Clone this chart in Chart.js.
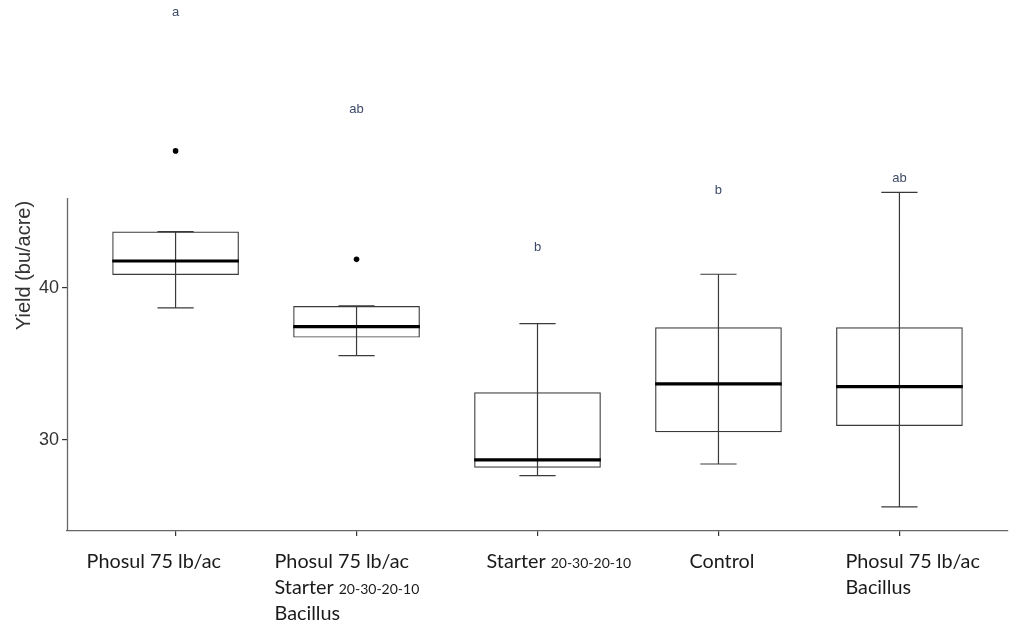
<!DOCTYPE html>
<html>
<head>
<meta charset="utf-8">
<script src="https://cdn.jsdelivr.net/npm/chart.js@4"></script>
<style>
  html, body { margin: 0; padding: 0; background: #fff; }
  #wrap { width: 1011px; height: 624px; position: relative; }
</style>
</head>
<body>
<div id="wrap"><canvas id="chart"></canvas></div>
<script>
// ==== Données
const CATEGORIES = [
  [["Phosul 75 lb/ac"]],
  [["Phosul 75 lb/ac"], ["Starter ", "20-30-20-10"], ["Bacillus"]],
  [["Starter ", "20-30-20-10"]],
  [["Control"]],
  [["Phosul 75 lb/ac"], ["Bacillus"]],
];
const WHISKER_LOW  = [38.67, 35.54, 27.66, 28.42, 25.60];
const Q1           = [40.83, 36.72, 28.18, 30.51, 30.92];
const MEDIAN       = [41.75, 37.44, 28.69, 33.68, 33.50];
const Q3           = [43.68, 38.80, 33.13, 37.40, 37.40];
const WHISKER_HIGH = [43.68, 38.80, 37.64, 40.88, 46.26];
const OUTLIERS     = [[48.98], [41.86], [], [], []];
const LETTERS      = ["a", "ab", "b", "b", "ab"];
const LETTER_Y     = [58.1, 51.73, 42.67, 46.41, 47.2];
const Y_TICKS      = [30, 40];
const Y_MIN = 24.02, Y_MAX = 58.89, AXIS_TOP = 45.89;

// ==== Mise en forme
const LINE = "#3a3a3a";
const BOX_W = 0.7, CAP_W = 0.1;
const LABEL_DX = [-89, -82, -51, -29, -54];

const pos = CATEGORIES.map((_, i) => i + 1);

// segments des moustaches / médianes (null = coupure)
const whiskers = [];
const caps = [];
const medians = [];
pos.forEach((x, i) => {
  whiskers.push({ x, y: WHISKER_LOW[i] }, { x, y: WHISKER_HIGH[i] }, { x, y: null });
  caps.push({ x: x - CAP_W, y: WHISKER_LOW[i] }, { x: x + CAP_W, y: WHISKER_LOW[i] }, { x, y: null });
  caps.push({ x: x - CAP_W, y: WHISKER_HIGH[i] }, { x: x + CAP_W, y: WHISKER_HIGH[i] }, { x, y: null });
  medians.push({ x: x - BOX_W / 2, y: MEDIAN[i] }, { x: x + BOX_W / 2, y: MEDIAN[i] }, { x, y: null });
});
const outlierPts = [];
OUTLIERS.forEach((arr, i) => arr.forEach(v => outlierPts.push({ x: pos[i], y: v })));

// ==== Plugin : axe Y partiel, lettres, étiquettes X
const decorPlugin = {
  id: "decor",
  afterDatasetsDraw(chart) {
    const { ctx, scales: { x, y } } = chart;
    ctx.save();
    // axe Y (ne monte que jusqu'à AXIS_TOP)
    ctx.strokeStyle = "#666";
    ctx.lineWidth = 1.3;
    ctx.beginPath();
    ctx.moveTo(x.left + 0.5, y.getPixelForValue(AXIS_TOP));
    ctx.lineTo(x.left + 0.5, y.getPixelForValue(Y_MIN));
    ctx.stroke();

    // lettres de groupement
    ctx.fillStyle = "#3d4a68";
    ctx.font = "13px 'Liberation Sans', Arial, sans-serif";
    ctx.textAlign = "center";
    ctx.textBaseline = "middle";
    LETTERS.forEach((t, i) => ctx.fillText(t, x.getPixelForValue(pos[i]), y.getPixelForValue(LETTER_Y[i])));

    // étiquettes X (texte mixte)
    ctx.fillStyle = "#1a1a1a";
    ctx.textAlign = "left";
    ctx.textBaseline = "alphabetic";
    CATEGORIES.forEach((lines, i) => {
      const x0 = x.getPixelForValue(pos[i]) + LABEL_DX[i];
      lines.forEach((segs, j) => {
        let cx = x0;
        const by = y.bottom + 37 + j * 26;
        segs.forEach((s, k) => {
          ctx.font = (k === 0 ? "19.8px" : "14px") + " Lato, sans-serif";
          ctx.fillText(s, cx, by);
          cx += ctx.measureText(s).width;
        });
      });
    });
    ctx.restore();
  },
};

new Chart(document.getElementById("chart"), {
  type: "bar",
  data: {
    datasets: [
      {
        type: "scatter",
        data: outlierPts,
        pointRadius: 2.8,
        pointBackgroundColor: "#000",
        pointBorderWidth: 0,
      },
      {
        type: "line",
        data: medians,
        borderColor: "#000",
        borderWidth: 3.2,
        pointRadius: 0,
        spanGaps: false,
      },
      {
        type: "line",
        data: whiskers,
        borderColor: LINE,
        borderWidth: 1.2,
        pointRadius: 0,
        spanGaps: false,
      },
      {
        type: "line",
        data: caps,
        borderColor: LINE,
        borderWidth: 1.2,
        pointRadius: 0,
        spanGaps: false,
      },
      {
        type: "bar",
        data: pos.map((x, i) => ({ x, y: [Q1[i], Q3[i]] })),
        backgroundColor: "rgba(255,255,255,0)",
        borderColor: LINE,
        borderWidth: 1.2,
        borderSkipped: false,
        barPercentage: BOX_W,
        categoryPercentage: 1,
      },
    ],
  },
  options: {
    responsive: true,
    maintainAspectRatio: false,
    animation: false,
    layout: { autoPadding: false, padding: { top: 0, left: 10, right: 3, bottom: 88 } },
    plugins: { legend: { display: false }, tooltip: { enabled: false } },
    scales: {
      x: {
        type: "linear",
        min: 0.4,
        max: 5.6,
        offset: false,
        afterBuildTicks: s => { s.ticks = pos.map(v => ({ value: v })); },
        afterFit: s => { s.paddingLeft = 0; s.paddingRight = 0; },
        ticks: { display: false },
        grid: { display: true, drawOnChartArea: false, offset: false, tickLength: 5, color: "#333", lineWidth: 1.2 },
        border: { display: true, color: "#666", width: 1.3 },
      },
      y: {
        type: "linear",
        min: Y_MIN,
        max: Y_MAX,
        afterBuildTicks: s => { s.ticks = Y_TICKS.map(v => ({ value: v })); },
        afterFit: s => { s.width = 57; s.paddingTop = 0; s.paddingBottom = 0; },
        ticks: {
          padding: 3,
          color: "#333",
          font: { family: "'Liberation Sans', Arial, sans-serif", size: 18 },
        },
        grid: { display: true, drawOnChartArea: false, tickLength: 5, color: "#333", lineWidth: 1.2 },
        border: { display: false },
        title: {
          display: true,
          text: "Yield (bu/acre)",
          color: "#333",
          padding: { top: 2, bottom: 0 },
          font: { family: "'Liberation Sans', Arial, sans-serif", size: 20, weight: "normal" },
        },
      },
    },
  },
  plugins: [decorPlugin],
});
</script>
</body>
</html>
